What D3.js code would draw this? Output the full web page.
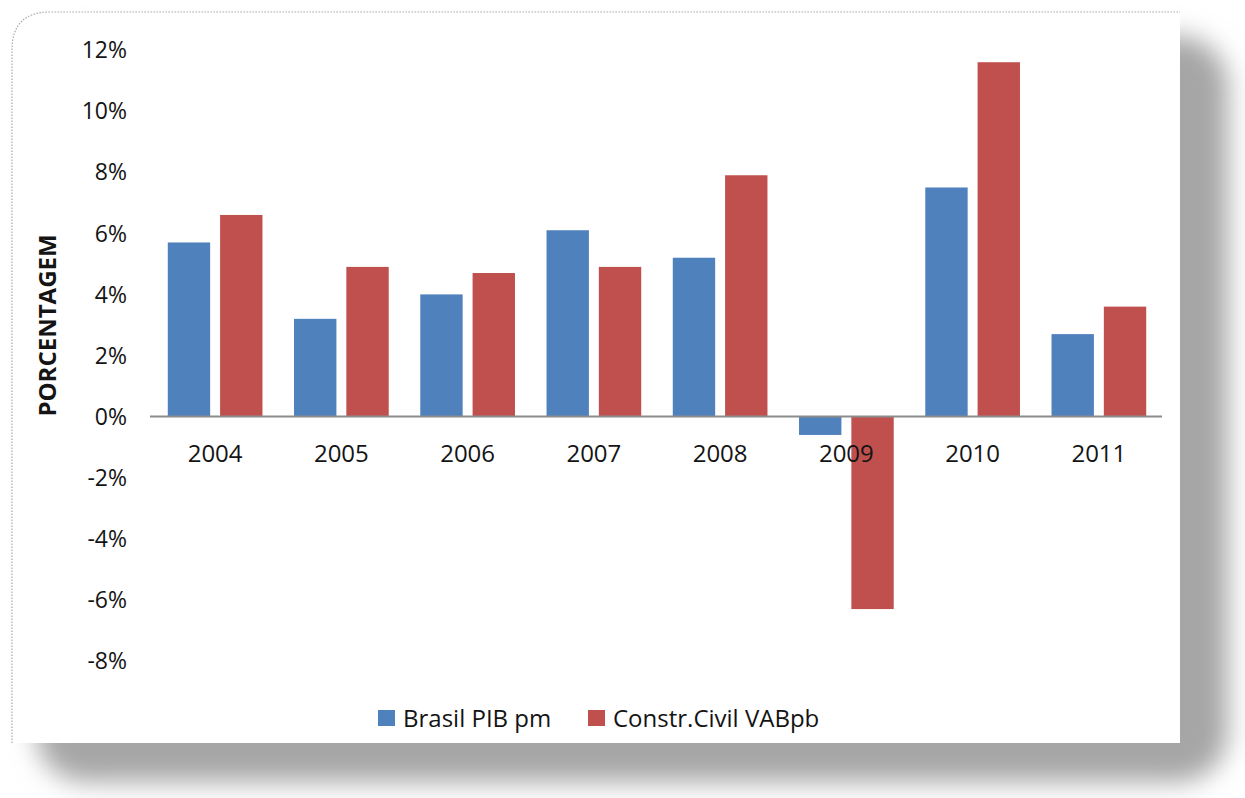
<!DOCTYPE html>
<html>
<head>
<meta charset="utf-8">
<script src="https://cdn.jsdelivr.net/npm/d3@7"></script>
<style>
  html, body { margin: 0; padding: 0; background: #ffffff; }
  svg { display: block; }
  text { font-family: "Open Sans", "Noto Sans", sans-serif; fill: #141414; }
</style>
</head>
<body>
<svg id="chart" width="1245" height="798"></svg>
<script>
const years = ["2004", "2005", "2006", "2007", "2008", "2009", "2010", "2011"];
const seriesNames = ["Brasil PIB pm", "Constr.Civil VABpb"];
const brasilPIB = [5.7, 3.2, 4.0, 6.1, 5.2, -0.6, 7.5, 2.7];
const constrCivil = [6.6, 4.9, 4.7, 4.9, 7.9, -6.3, 11.6, 3.6];
const yTicks = [-8, -6, -4, -2, 0, 2, 4, 6, 8, 10, 12];
const colors = ["#4f81bd", "#c0504d"];
const yTitle = "PORCENTAGEM";

const svg = d3.select("#chart");
const defs = svg.append("defs");

// shadow / frame
const blur = defs.append("filter").attr("id", "blur")
  .attr("x", "-10%").attr("y", "-10%").attr("width", "120%").attr("height", "120%");
blur.append("feGaussianBlur").attr("stdDeviation", 13);

svg.append("rect")
  .attr("x", 36).attr("y", 36).attr("width", 1192).attr("height", 746)
  .attr("rx", 50).attr("ry", 50)
  .attr("fill", "#a6a6a6").attr("filter", "url(#blur)");

svg.append("rect")
  .attr("x", 12).attr("y", 12).attr("width", 1168).attr("height", 731)
  .attr("fill", "#ffffff");

// dotted border top and left
svg.append("path")
  .attr("d", "M12,743 L12,50 Q12,12 50,12 L1180,12")
  .attr("fill", "none").attr("stroke", "#aaaaaa").attr("stroke-width", 1.2)
  .attr("stroke-dasharray", "1.5,1.5");

const plotLeft = 152, plotRight = 1162;
const y = d3.scaleLinear().domain([-8, 12]).range([661, 50]);
const x0 = d3.scaleBand().domain(years).range([plotLeft, plotRight])
  .paddingInner(0.25).paddingOuter(0.125);
const x1 = d3.scaleBand().domain(seriesNames).range([0, x0.bandwidth()]).paddingInner(0.19);

const rows = years.map((yr, i) => ({ year: yr, values: [brasilPIB[i], constrCivil[i]] }));

// bars
const g = svg.append("g");
rows.forEach(r => {
  r.values.forEach((v, j) => {
    g.append("rect")
      .attr("x", x0(r.year) + x1(seriesNames[j]))
      .attr("width", x1.bandwidth())
      .attr("y", y(Math.max(0, v)))
      .attr("height", Math.abs(y(v) - y(0)))
      .attr("fill", colors[j]);
  });
});

// zero axis line
svg.append("line")
  .attr("x1", plotLeft - 2).attr("x2", plotRight)
  .attr("y1", y(0)).attr("y2", y(0))
  .attr("stroke", "#8c8c8c").attr("stroke-width", 2);

// y tick labels
svg.append("g").selectAll("text").data(yTicks).join("text")
  .attr("x", 127).attr("y", d => y(d))
  .attr("dy", "0.36em")
  .attr("text-anchor", "end")
  .attr("font-size", 23)
  .text(d => d + "%");

// x labels
svg.append("g").selectAll("text").data(years).join("text")
  .attr("x", d => x0(d) + x0.bandwidth() / 2)
  .attr("y", 453)
  .attr("dy", "0.36em")
  .attr("text-anchor", "middle")
  .attr("font-size", 24)
  .text(d => d);

// y title
svg.append("text")
  .attr("transform", `translate(56, ${(236 + 415) / 2}) rotate(-90)`)
  .attr("text-anchor", "middle")
  .attr("font-size", 24)
  .attr("font-weight", "bold")
  .attr("fill", "#111")
  .text(yTitle);

// legend
const legendX = [378, 588];
const leg = svg.append("g");
seriesNames.forEach((name, j) => {
  leg.append("rect")
    .attr("x", legendX[j]).attr("y", 710)
    .attr("width", 17).attr("height", 16)
    .attr("fill", colors[j]);
  leg.append("text")
    .attr("x", legendX[j] + 25).attr("y", 718)
    .attr("dy", "0.36em")
    .attr("font-size", 24)
    .text(name);
});
</script>
</body>
</html>
